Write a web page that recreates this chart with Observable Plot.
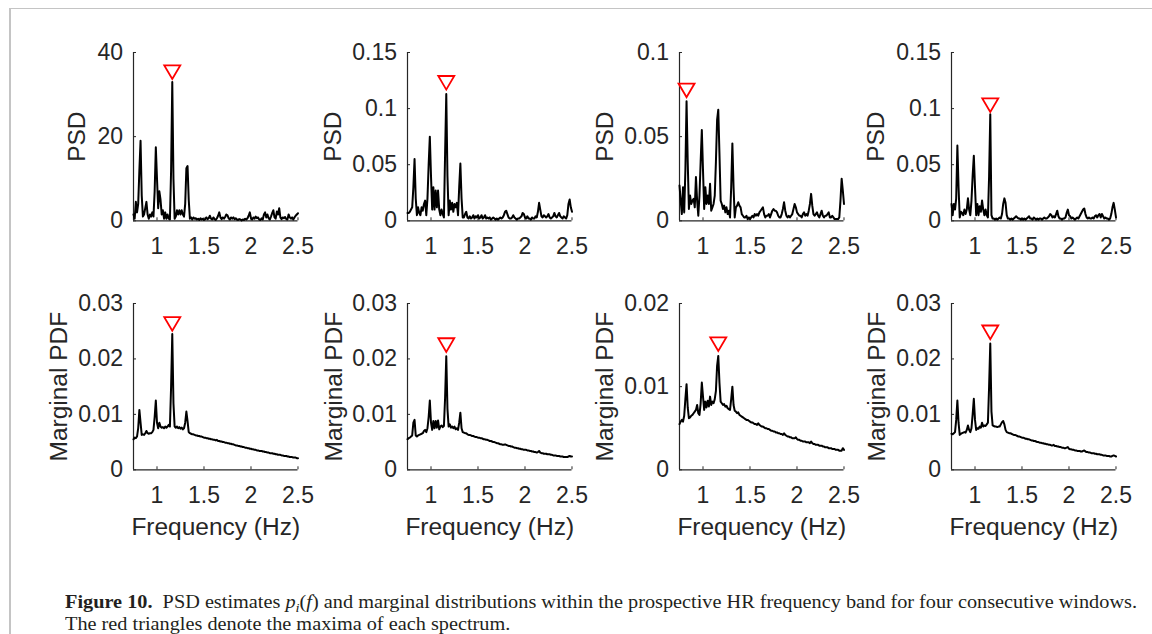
<!DOCTYPE html>
<html>
<head>
<meta charset="utf-8">
<script src="https://cdn.jsdelivr.net/npm/d3@7"></script>
<script src="https://cdn.jsdelivr.net/npm/@observablehq/plot@0.6"></script>
<style>
  body { margin: 0; background: #fff; }
  #fig { position: relative; width: 1152px; height: 634px; overflow: hidden; background: #fff; }
  .panel { position: absolute; }
  .hline { position: absolute; left: 10px; top: 8px; width: 1142px; height: 1px; background: #c4c4c4; }
  .vline { position: absolute; left: 9px; top: 8px; width: 1.5px; height: 626px; background: #c4c4c4; }
  .cap { position: absolute; left: 65px; white-space: nowrap; font-family: "Liberation Serif", "Times New Roman", serif;
         font-size: 18.5px; line-height: 20px; color: #231f20; transform-origin: 0 50%; }
  .cap sub { font-size: 0.72em; vertical-align: -0.3em; line-height: 0; }
</style>
</head>
<body>
<div id="fig">
  <div class="hline"></div>
  <div class="vline"></div>
  <div class="cap" id="cap1" style="top:592px"><b>Figure 10.</b>&nbsp;&nbsp;PSD estimates <i>p</i><sub><i>i</i></sub>(<i>f</i>) and marginal distributions within the prospective HR frequency band for four consecutive windows.</div>
  <div class="cap" id="cap2" style="top:614px">The red triangles denote the maxima of each spectrum.</div>
</div>
<script>
// ---------- DATA ----------
// frequency sample grid (Hz), 0.75 .. 2.5 in 0.0125 steps
const freq = d3.range(141).map(i => +(0.75 + 0.0125 * i).toFixed(4));
const xTicks = [1, 1.5, 2, 2.5];

// PSD estimates (top row)
const psd1 = [1.5,0.5,4.5,2,4,12,19,6,1,1.5,
 3,4.5,1.5,0.5,1.5,1,2,1,7,17.5,
 10,3,7,5,1.5,2.5,0.5,2,0.5,1.5,
 0.5,0.3,12,33,10,0.5,1,2.5,1.5,2.5,
 1.5,2.5,1.5,1,4,12.5,13,5,0.5,0.8,
 0.3,0.8,0.5,0.6,0.3,0.5,0.2,0.6,0.3,0.5,
 0.2,0.4,0.8,0.4,0.6,1.2,0.5,0.3,0.8,0.4,
 0.2,0.6,1.2,2,0.8,0.4,0.8,0.5,0.9,1.5,
 1.3,0.6,0.3,0.8,0.5,0.8,0.4,0.6,0.3,0.2,
 0.4,0.3,0.1,0.3,0.2,0.5,0.3,0.6,1.2,2,
 0.6,0.3,0.8,0.5,1,0.6,0.8,0.3,0.2,0.6,
 0.3,1.5,2,0.8,1.5,0.6,0.3,1,1.8,2.5,
 0.8,0.5,2.2,1.5,3,0.8,0.4,0.8,0.6,0.9,
 0.4,0.3,1.5,0.8,0.5,0.8,0.3,0.8,1.2,1.5,
 1.8];
const psd2 = [0.007,0.007,0.008,0.01,0.012,0.03,0.055,0.02,0.005,0.012,
 0.007,0.005,0.012,0.009,0.015,0.018,0.005,0.02,0.05,0.075,
 0.04,0.01,0.03,0.01,0.027,0.012,0.027,0.01,0.005,0.01,
 0.006,0.003,0.06,0.113,0.04,0.005,0.018,0.01,0.016,0.008,
 0.015,0.012,0.016,0.005,0.03,0.051,0.02,0.003,0.003,0.006,
 0.008,0.003,0.002,0.004,0.002,0.003,0.005,0.002,0.004,0.003,
 0.005,0.002,0.003,0.005,0.002,0.003,0.005,0.002,0.003,0.002,
 0.003,0.001,0.002,0.003,0.002,0.001,0.002,0.001,0.002,0.003,
 0.002,0.003,0.005,0.008,0.009,0.006,0.003,0.002,0.002,0.003,
 0.005,0.003,0.002,0.001,0.002,0.002,0.003,0.004,0.007,0.006,
 0.003,0.002,0.004,0.002,0.002,0.001,0.003,0.002,0.002,0.004,
 0.003,0.008,0.016,0.01,0.004,0.003,0.005,0.004,0.003,0.004,
 0.006,0.003,0.002,0.003,0.004,0.007,0.004,0.003,0.005,0.007,
 0.004,0.003,0.002,0.004,0.003,0.002,0.005,0.015,0.019,0.012,
 0.008];
const psd3 = [0.021,0.012,0.004,0.02,0.005,0.03,0.071,0.035,0.007,0.015,
 0.01,0.012,0.013,0.008,0.026,0.012,0.003,0.015,0.035,0.054,
 0.03,0.007,0.02,0.01,0.015,0.01,0.022,0.006,0.008,0.01,
 0.015,0.035,0.06,0.066,0.04,0.012,0.01,0.007,0.009,0.005,
 0.008,0.004,0.006,0.002,0.02,0.046,0.02,0.002,0.008,0.009,
 0.011,0.009,0.008,0.004,0.003,0.002,0.002,0.003,0.001,0.002,
 0.001,0.002,0.003,0.002,0.004,0.003,0.004,0.003,0.005,0.006,
 0.007,0.008,0.004,0.002,0.003,0.003,0.004,0.002,0.004,0.006,
 0.007,0.006,0.006,0.005,0.003,0.002,0.002,0.004,0.007,0.011,
 0.006,0.003,0.002,0.003,0.002,0.003,0.004,0.007,0.01,0.008,
 0.005,0.004,0.003,0.003,0.002,0.004,0.005,0.003,0.004,0.003,
 0.006,0.01,0.016,0.009,0.004,0.003,0.004,0.005,0.003,0.002,
 0.004,0.006,0.003,0.002,0.003,0.003,0.004,0.005,0.002,0.002,
 0.003,0.002,0.001,0.001,0.001,0.001,0.002,0.012,0.025,0.018,
 0.01];
const psd4 = [0.015,0.005,0.015,0.01,0.02,0.067,0.03,0.003,0.008,0.007,
 0.005,0.01,0.006,0.01,0.02,0.01,0.005,0.018,0.04,0.058,
 0.03,0.005,0.015,0.005,0.013,0.008,0.018,0.01,0.005,0.01,
 0.005,0.003,0.04,0.095,0.005,0.002,0.002,0.001,0.002,0.001,
 0.002,0.003,0.002,0.006,0.015,0.02,0.016,0.005,0.002,0.002,
 0.001,0.002,0.001,0.002,0.003,0.004,0.003,0.002,0.002,0.001,
 0.002,0.001,0.002,0.001,0.002,0.003,0.004,0.002,0.002,0.001,
 0.003,0.002,0.001,0.002,0.001,0.002,0.002,0.001,0.002,0.003,
 0.002,0.002,0.003,0.004,0.006,0.005,0.003,0.004,0.003,0.006,
 0.009,0.004,0.002,0.002,0.001,0.002,0.002,0.003,0.007,0.01,
 0.005,0.004,0.002,0.003,0.002,0.001,0.002,0.003,0.002,0.004,
 0.006,0.008,0.01,0.011,0.006,0.003,0.002,0.003,0.002,0.002,
 0.003,0.002,0.004,0.005,0.003,0.005,0.006,0.003,0.006,0.004,
 0.002,0.003,0.002,0.002,0.001,0.002,0.006,0.012,0.016,0.01,
 0.003];

// Marginal PDFs (bottom row)
const pdf1 = [0.0055,0.0058,0.0057,0.006,0.0075,0.0108,0.0085,0.0063,0.0064,0.0063,
 0.0066,0.007,0.0066,0.0065,0.0066,0.0066,0.0068,0.0072,0.0095,0.0125,
 0.0085,0.0075,0.0085,0.0078,0.0076,0.0077,0.0075,0.0078,0.0076,0.0078,
 0.0081,0.0078,0.015,0.0245,0.012,0.0078,0.0076,0.0078,0.0075,0.0077,
 0.0074,0.0076,0.0073,0.0075,0.0085,0.0105,0.0088,0.0068,0.0066,0.0065,
 0.0064,0.0064,0.0063,0.0062,0.0062,0.0061,0.0061,0.006,0.006,0.0059,
 0.0058,0.0058,0.0057,0.0057,0.0056,0.0056,0.0055,0.0055,0.0054,0.0054,
 0.0053,0.0054,0.0052,0.0052,0.0051,0.0051,0.005,0.005,0.0049,0.0049,
 0.0048,0.0048,0.0047,0.0047,0.0046,0.0046,0.0045,0.0044,0.0044,0.0043,
 0.0043,0.0042,0.0042,0.0041,0.0041,0.004,0.004,0.0039,0.0039,0.0038,
 0.0038,0.0037,0.0037,0.0036,0.0036,0.0035,0.0035,0.0034,0.0034,0.0034,
 0.0033,0.0033,0.0032,0.0032,0.0031,0.0031,0.003,0.003,0.003,0.0029,
 0.0029,0.0028,0.0028,0.0027,0.0027,0.0027,0.0026,0.0026,0.0025,0.0025,
 0.0025,0.0024,0.0024,0.0023,0.0023,0.0023,0.0022,0.0022,0.0022,0.0021,
 0.0021];
const pdf2 = [0.0055,0.0057,0.0058,0.006,0.0062,0.0085,0.009,0.0062,0.006,0.0062,
 0.0063,0.0064,0.0065,0.0066,0.007,0.0072,0.0068,0.0075,0.0095,0.0125,
 0.0085,0.0072,0.0088,0.0075,0.0088,0.0076,0.0089,0.0073,0.0078,0.008,
 0.0077,0.0079,0.013,0.0205,0.011,0.0078,0.0082,0.0076,0.0078,0.0075,
 0.0078,0.0073,0.0075,0.0072,0.0085,0.0103,0.0075,0.0068,0.0067,0.0066,
 0.0066,0.0064,0.0063,0.0063,0.0062,0.0061,0.0061,0.006,0.0059,0.0059,
 0.0058,0.0058,0.0057,0.0057,0.0056,0.0055,0.0055,0.0054,0.0054,0.0053,
 0.0052,0.0052,0.0051,0.005,0.005,0.0049,0.0048,0.0048,0.0047,0.0046,
 0.0046,0.0045,0.0045,0.0046,0.0045,0.0044,0.0043,0.0043,0.0042,0.0042,
 0.0041,0.004,0.004,0.0039,0.0039,0.0038,0.0038,0.0037,0.0037,0.0036,
 0.0036,0.0036,0.0035,0.0035,0.0034,0.0034,0.0033,0.0033,0.0032,0.0032,
 0.0031,0.0032,0.0034,0.0031,0.003,0.003,0.0029,0.0029,0.0029,0.0028,
 0.0028,0.0028,0.0027,0.0027,0.0026,0.0026,0.0026,0.0025,0.0025,0.0025,
 0.0024,0.0024,0.0024,0.0023,0.0023,0.0023,0.0023,0.0024,0.0025,0.0024,
 0.0024];
const pdf3 = [0.0055,0.0058,0.006,0.0058,0.0065,0.0085,0.0103,0.0075,0.0062,0.0063,
 0.0065,0.0066,0.0068,0.007,0.0072,0.0078,0.0068,0.0066,0.008,0.0105,
 0.0088,0.0072,0.0082,0.0075,0.0083,0.0076,0.0088,0.0078,0.0082,0.008,
 0.0085,0.0095,0.0125,0.0137,0.0105,0.0082,0.008,0.0078,0.0079,0.0076,
 0.0077,0.0074,0.0073,0.0072,0.0085,0.01,0.0078,0.0071,0.007,0.0068,
 0.0069,0.0066,0.0065,0.0064,0.0063,0.0062,0.0061,0.006,0.006,0.0059,
 0.0058,0.0057,0.0057,0.0056,0.0055,0.0055,0.0054,0.0056,0.0054,0.0053,
 0.0052,0.0052,0.0051,0.005,0.005,0.0049,0.0049,0.0048,0.0047,0.0047,
 0.0046,0.0046,0.0045,0.0045,0.0044,0.0044,0.0043,0.0043,0.0042,0.0044,
 0.0042,0.0041,0.004,0.004,0.0039,0.0039,0.0038,0.0038,0.0038,0.0039,
 0.0037,0.0036,0.0036,0.0035,0.0035,0.0034,0.0034,0.0034,0.0033,0.0033,
 0.0033,0.0032,0.0034,0.0032,0.0031,0.0031,0.003,0.003,0.003,0.0029,
 0.0029,0.0029,0.0028,0.0028,0.0027,0.0027,0.0027,0.0026,0.0026,0.0026,
 0.0025,0.0025,0.0025,0.0024,0.0024,0.0024,0.0023,0.0023,0.0023,0.0026,
 0.0024];
const pdf4 = [0.0065,0.0064,0.0066,0.0068,0.009,0.0125,0.0085,0.0063,0.0065,0.0066,
 0.0067,0.0068,0.0067,0.0072,0.008,0.0072,0.0068,0.0075,0.01,0.0128,
 0.009,0.0072,0.0075,0.0074,0.0078,0.0076,0.0085,0.0078,0.008,0.0079,
 0.0082,0.0085,0.015,0.0228,0.0105,0.008,0.0079,0.0078,0.0078,0.0077,
 0.0078,0.0078,0.0082,0.0086,0.0088,0.0082,0.0072,0.0068,0.0067,0.0066,
 0.0066,0.0065,0.0064,0.0063,0.0063,0.0062,0.0061,0.006,0.006,0.0059,
 0.0058,0.0058,0.0057,0.0056,0.0056,0.0055,0.0055,0.0054,0.0053,0.0053,
 0.0052,0.0052,0.0051,0.005,0.005,0.0049,0.0049,0.0048,0.0048,0.0047,
 0.0047,0.0046,0.0046,0.0045,0.0045,0.0044,0.0044,0.0045,0.0043,0.0043,
 0.0042,0.0042,0.0041,0.0041,0.004,0.004,0.0039,0.0039,0.004,0.0041,
 0.0038,0.0037,0.0037,0.0036,0.0036,0.0035,0.0035,0.0034,0.0034,0.0034,
 0.0033,0.0033,0.0034,0.0035,0.0033,0.0032,0.0032,0.0031,0.0031,0.003,
 0.003,0.003,0.0029,0.0029,0.0028,0.0028,0.0028,0.0027,0.0027,0.0026,
 0.0026,0.0026,0.0025,0.0025,0.0025,0.0024,0.0024,0.0025,0.0026,0.0025,
 0.0024];

const psdSeries = [psd1, psd2, psd3, psd4];
const pdfSeries = [pdf1, pdf2, pdf3, pdf4];
const psdMax = [40, 0.15, 0.1, 0.15];
const pdfMax = [0.03, 0.03, 0.02, 0.03];
const psdTicks = [[0, 20, 40], [0, 0.05, 0.1, 0.15], [0, 0.05, 0.1], [0, 0.05, 0.1, 0.15]];
const pdfTicks = [[0, 0.01, 0.02, 0.03], [0, 0.01, 0.02, 0.03], [0, 0.01, 0.02], [0, 0.01, 0.02, 0.03]];
// red triangle markers (frequency, plotted value)
const psdMarkF = [1.1625, 1.1625, 0.825, 1.1625];
const psdMarkV = [35.3, 0.123, 0.0775, 0.103];
const pdfMarkF = [1.1625, 1.1625, 1.1625, 1.1625];
const pdfMarkV = [0.0263, 0.0225, 0.0151, 0.0248];
const rowLabels = ["PSD", "Marginal PDF"];
const xLabel = "Frequency (Hz)";

// ---------- LAYOUT ----------
const colAxisX = [133.3, 406.7, 679, 951];
const rowTop = [51.7, 302.7];
const rowH = [168.3, 166.3];
const innerW = 164.5;
const mLeft = 100, mRight = 8.5, mTop = 20;
const mBottom = [40, 75];
const psdLabelOff = [56.6, 74.5, 74.5, 75];
const pdfLabelOff = [74, 73.4, 74, 74.3];
const ink = "#262626";

const triDown = {
  draw(ctx, size) {
    const r = Math.sqrt(size / Math.PI), h = r * 0.85;
    ctx.moveTo(-r, -h); ctx.lineTo(r, -h); ctx.lineTo(0, h); ctx.closePath();
  }
};

const fig = document.getElementById("fig");

function panel(row, col) {
  const vals = row === 0 ? psdSeries[col] : pdfSeries[col];
  const ymax = row === 0 ? psdMax[col] : pdfMax[col];
  const ticks = row === 0 ? psdTicks[col] : pdfTicks[col];
  const mf = row === 0 ? psdMarkF[col] : pdfMarkF[col];
  const mv = row === 0 ? psdMarkV[col] : pdfMarkV[col];
  const lOff = row === 0 ? psdLabelOff[col] : pdfLabelOff[col];
  const data = freq.map((f, i) => ({f, v: vals[i]}));
  const marks = [
    Plot.ruleY([0], {stroke: ink, strokeWidth: 1.2}),
    Plot.ruleX([0.75], {stroke: ink, strokeWidth: 1.2}),
    Plot.axisY({ticks, tickSize: -3, tickPadding: 13.5, tickFormat: d => String(d), label: null, stroke: ink}),
    Plot.axisX({ticks: xTicks, tickSize: -3, tickPadding: 20, tickFormat: d => String(d), label: null, stroke: ink}),
    Plot.line(data, {x: "f", y: "v", stroke: "#000", strokeWidth: 2}),
    Plot.dot([{f: mf, v: mv}], {x: "f", y: "v", symbol: triDown, r: 8, stroke: "#ff0000", fill: "none", strokeWidth: 1.8}),
    Plot.text([rowLabels[row]], {text: d => d, frameAnchor: "left", rotate: -90, dx: -lOff, fontSize: 24.5, fill: ink, textAnchor: "middle", lineAnchor: "middle"})
  ];
  if (row === 1) {
    marks.push(Plot.text([xLabel], {text: d => d, frameAnchor: "bottom", dy: 57.7, fontSize: 24.5, fill: ink, textAnchor: "middle", lineAnchor: "middle"}));
  }
  const height = mTop + rowH[row] + mBottom[row];
  const svg = Plot.plot({
    width: mLeft + innerW + mRight,
    height,
    marginLeft: mLeft, marginRight: mRight, marginTop: mTop, marginBottom: mBottom[row],
    x: {domain: [0.75, 2.5], label: null},
    y: {domain: [0, ymax], label: null},
    style: {fontFamily: "'Liberation Sans', Arial, sans-serif", fontSize: "23px", color: ink, background: "transparent", overflow: "visible"},
    marks
  });
  const div = document.createElement("div");
  div.className = "panel";
  div.style.left = (colAxisX[col] - mLeft) + "px";
  div.style.top = (rowTop[row] - mTop) + "px";
  div.appendChild(svg);
  fig.appendChild(div);
}

for (let r = 0; r < 2; r++) for (let c = 0; c < 4; c++) panel(r, c);

// fit caption width to the reference line length
const cap1 = document.getElementById("cap1");
const w = cap1.getBoundingClientRect().width;
const s = 1072 / w;
document.querySelectorAll(".cap").forEach(e => e.style.transform = `scaleX(${s})`);
</script>
</body>
</html>
